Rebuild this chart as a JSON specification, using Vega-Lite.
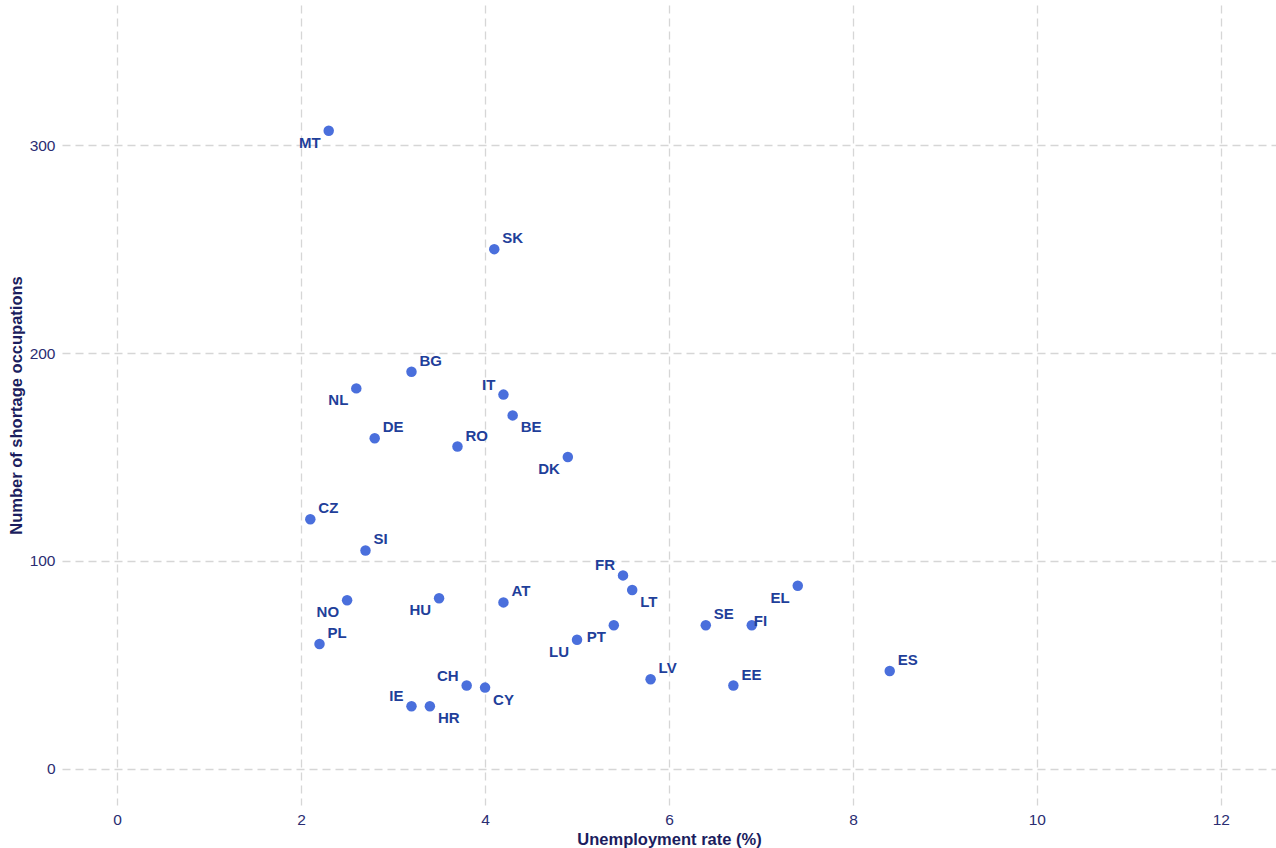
{
  "$schema": "https://vega.github.io/schema/vega-lite/v6.json",
  "autosize": "none",
  "width": 1214,
  "height": 800,
  "padding": {"left": 62, "top": 5, "right": 0, "bottom": 43},
  "background": "white",
  "config": {
    "view": {"stroke": null},
    "font": "Liberation Sans",
    "axis": {
      "domain": false,
      "ticks": false,
      "grid": true,
      "gridColor": "#d6d6d6",
      "gridDash": [8, 5],
      "gridWidth": 1.3,
      "labelFont": "Liberation Sans",
      "labelFontSize": 15.5,
      "labelColor": "#2b2d72",
      "titleFont": "Liberation Sans",
      "titleFontSize": 16.5,
      "titleFontWeight": "bold",
      "titleColor": "#1b1d5e"
    }
  },
  "data": {
    "values": [
      {"country": "MT", "unemployment": 2.3, "shortage": 307},
      {"country": "SK", "unemployment": 4.1, "shortage": 250},
      {"country": "BG", "unemployment": 3.2, "shortage": 191},
      {"country": "NL", "unemployment": 2.6, "shortage": 183},
      {"country": "IT", "unemployment": 4.2, "shortage": 180},
      {"country": "BE", "unemployment": 4.3, "shortage": 170},
      {"country": "DE", "unemployment": 2.8, "shortage": 159},
      {"country": "RO", "unemployment": 3.7, "shortage": 155},
      {"country": "DK", "unemployment": 4.9, "shortage": 150},
      {"country": "CZ", "unemployment": 2.1, "shortage": 120},
      {"country": "SI", "unemployment": 2.7, "shortage": 105},
      {"country": "FR", "unemployment": 5.5, "shortage": 93},
      {"country": "EL", "unemployment": 7.4, "shortage": 88},
      {"country": "LT", "unemployment": 5.6, "shortage": 86},
      {"country": "NO", "unemployment": 2.5, "shortage": 81},
      {"country": "HU", "unemployment": 3.5, "shortage": 82},
      {"country": "AT", "unemployment": 4.2, "shortage": 80},
      {"country": "SE", "unemployment": 6.4, "shortage": 69},
      {"country": "FI", "unemployment": 6.9, "shortage": 69},
      {"country": "PT", "unemployment": 5.4, "shortage": 69},
      {"country": "LU", "unemployment": 5.0, "shortage": 62},
      {"country": "PL", "unemployment": 2.2, "shortage": 60},
      {"country": "ES", "unemployment": 8.4, "shortage": 47},
      {"country": "LV", "unemployment": 5.8, "shortage": 43},
      {"country": "EE", "unemployment": 6.7, "shortage": 40},
      {"country": "CH", "unemployment": 3.8, "shortage": 40},
      {"country": "CY", "unemployment": 4.0, "shortage": 39},
      {"country": "IE", "unemployment": 3.2, "shortage": 30},
      {"country": "HR", "unemployment": 3.4, "shortage": 30}
    ]
  },
  "encoding": {
    "x": {
      "field": "unemployment",
      "type": "quantitative",
      "scale": {"domain": [-0.6, 12.6], "nice": false, "zero": false},
      "axis": {"values": [0, 2, 4, 6, 8, 10, 12], "title": "Unemployment rate (%)", "labelPadding": 7, "titlePadding": 4}
    },
    "y": {
      "field": "shortage",
      "type": "quantitative",
      "scale": {"domain": [-17.5, 367.5], "nice": false, "zero": false},
      "axis": {"values": [0, 100, 200, 300], "title": "Number of shortage occupations", "labelPadding": 7, "titlePadding": 5}
    }
  },
  "layer": [
    {
      "mark": {"type": "point", "filled": true, "size": 110, "color": "#4a6fdc", "opacity": 1}
    },
    {
      "transform": [{"filter": {"field": "country", "oneOf": ["SK", "BG", "DE", "RO", "CZ", "SI", "AT", "SE", "ES", "LV", "EE", "PL"]}}],
      "mark": {"type": "text", "align": "left", "baseline": "middle", "dx": 8, "dy": -11, "fontSize": 15, "fontWeight": "bold", "color": "#1f3f9a"},
      "encoding": {"text": {"field": "country"}}
    },
    {
      "transform": [{"filter": {"field": "country", "oneOf": ["IT", "FR", "CH", "IE"]}}],
      "mark": {"type": "text", "align": "right", "baseline": "middle", "dx": -8, "dy": -10, "fontSize": 15, "fontWeight": "bold", "color": "#1f3f9a"},
      "encoding": {"text": {"field": "country"}}
    },
    {
      "transform": [{"filter": {"field": "country", "oneOf": ["BE", "LT", "CY", "HR"]}}],
      "mark": {"type": "text", "align": "left", "baseline": "middle", "dx": 8, "dy": 12, "fontSize": 15, "fontWeight": "bold", "color": "#1f3f9a"},
      "encoding": {"text": {"field": "country"}}
    },
    {
      "transform": [{"filter": {"field": "country", "oneOf": ["MT", "NL", "DK", "EL", "NO", "HU", "PT", "LU"]}}],
      "mark": {"type": "text", "align": "right", "baseline": "middle", "dx": -8, "dy": 12, "fontSize": 15, "fontWeight": "bold", "color": "#1f3f9a"},
      "encoding": {"text": {"field": "country"}}
    },
    {
      "transform": [{"filter": {"field": "country", "oneOf": ["FI"]}}],
      "mark": {"type": "text", "align": "left", "baseline": "middle", "dx": 2, "dy": -4, "fontSize": 15, "fontWeight": "bold", "color": "#1f3f9a"},
      "encoding": {"text": {"field": "country"}}
    }
  ]
}
